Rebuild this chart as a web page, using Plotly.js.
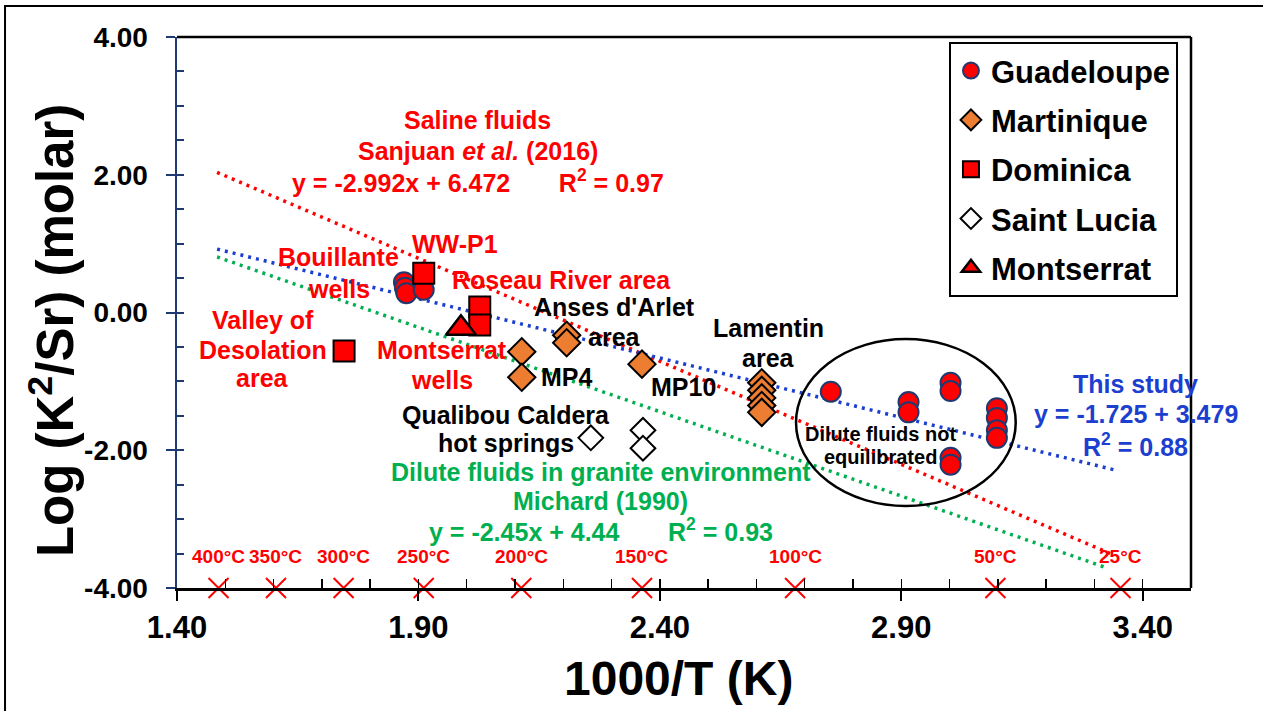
<!DOCTYPE html>
<html>
<head>
<meta charset="utf-8">
<script src="https://cdn.plot.ly/plotly-3.0.1.min.js"></script>
<style>
  html, body { margin: 0; padding: 0; background: #fff; }
  #chart { width: 1263px; height: 711px; }
</style>
</head>
<body>
<div id="chart"></div>
<script>
// Log(K2/Sr) geothermometer: sample data per island (x = 1000/T in K^-1, y = log molar ratio)
const guadeloupeX = [1.870, 1.872, 1.875, 1.911, 2.754, 2.915, 2.915, 3.002, 3.002, 3.002, 3.002, 3.098, 3.098, 3.098, 3.098];
const guadeloupeY = [0.44, 0.36, 0.28, 0.33, -1.15, -1.30, -1.45, -1.02, -1.14, -2.11, -2.21, -1.39, -1.53, -1.71, -1.82];

const martiniqueX = [2.114, 2.114, 2.207, 2.207, 2.363, 2.611, 2.611, 2.611, 2.611, 2.611];
const martiniqueY = [-0.57, -0.94, -0.33, -0.44, -0.75, -1.02, -1.13, -1.24, -1.35, -1.45];

const dominicaX = [1.911, 2.027, 2.027, 1.746];
const dominicaY = [0.57, 0.08, -0.18, -0.56];

const saintLuciaX = [2.257, 2.365, 2.365];
const saintLuciaY = [-1.82, -1.71, -1.97];

const montserratX = [1.988];
const montserratY = [-0.23];

// Reference temperatures marked on the x axis
const tempLabels = ['400°C', '350°C', '300°C', '250°C', '200°C', '150°C', '100°C', '50°C', '25°C'];
const tempX = [1.486, 1.605, 1.745, 1.911, 2.113, 2.363, 2.680, 3.095, 3.354];
const tempY = [-4, -4, -4, -4, -4, -4, -4, -4, -4];

// Regression lines: y = slope * x + intercept, drawn between xStart and xEnd
const fitNames = ['Sanjuan et al. (2016)', 'This study', 'Michard (1990)'];
const fitSlope = [-2.992, -1.725, -2.45];
const fitIntercept = [6.472, 3.479, 4.44];
const fitXStart = [1.483, 1.483, 1.483];
const fitXEnd = [3.338, 3.345, 3.325];
const fitColors = ['#ff0000', '#1c3fd0', '#00b050'];

// Axis tick labels
const yTickVals = [-4, -2, 0, 2, 4];
const yTickText = ['-4.00', '-2.00', '0.00', '2.00', '4.00'];
const xTickVals = [1.4, 1.9, 2.4, 2.9, 3.4];
const xTickText = ['1.40', '1.90', '2.40', '2.90', '3.40'];

const SANS = 'Liberation Sans, Arial, sans-serif';
const NAVY = '#1f3a70';
const RED = '#ff0000';
const BLUE = '#1c3fd0';
const GREEN = '#00b050';

const traces = [];

// dotted regression lines
fitNames.forEach((name, i) => {
  const xs = [fitXStart[i], fitXEnd[i]];
  traces.push({
    type: 'scatter', mode: 'lines', name: name, showlegend: false, hoverinfo: 'skip',
    x: xs, y: xs.map(v => fitSlope[i] * v + fitIntercept[i]),
    line: { color: fitColors[i], width: 3.5, dash: '3px,5px' }
  });
});

// temperature crosses on the x axis
traces.push({
  type: 'scatter', mode: 'markers', showlegend: false, hoverinfo: 'skip', cliponaxis: false,
  x: tempX, y: tempY,
  marker: { symbol: 'x-thin', size: 20, color: RED, line: { color: RED, width: 2 } }
});

function series(name, xs, ys, marker, group) {
  return { type: 'scatter', mode: 'markers', name: name, x: xs, y: ys,
           marker: marker, legendgroup: group, cliponaxis: false };
}

traces.push(series('Guadeloupe', guadeloupeX, guadeloupeY,
  { symbol: 'circle', size: 20, color: RED, line: { color: NAVY, width: 2 } }, 'g1'));
traces.push(series('Martinique', martiniqueX, martiniqueY,
  { symbol: 'diamond', size: 21, color: '#ed7d31', line: { color: '#000', width: 2 } }, 'g2'));
traces.push(series('Dominica', dominicaX, dominicaY,
  { symbol: 'square', size: 21, color: RED, line: { color: '#000', width: 2 } }, 'g3'));
traces.push(series('Saint Lucia', saintLuciaX, saintLuciaY,
  { symbol: 'diamond', size: 19, color: '#fff', line: { color: '#000', width: 2 } }, 'g4'));
traces.push(series('Montserrat', montserratX, montserratY,
  { symbol: 'triangle-up', size: 26, color: RED, line: { color: '#000', width: 2.5 } }, 'g5'));

// companion axes carrying the inner (minor) tick marks
traces.push({ type: 'scatter', mode: 'markers', x: [null], y: [null], xaxis: 'x2', yaxis: 'y2',
              showlegend: false, hoverinfo: 'skip' });

const annotations = [];

// a centred block of text lines, one annotation per line at its own height
function block(lines, x, ys, color, size) {
  lines.forEach((t, i) => {
    annotations.push({
      text: t, x: x, y: ys[i], xref: 'x', yref: 'y', showarrow: false,
      xanchor: 'center', yanchor: 'middle', align: 'center',
      font: { family: SANS, size: size || 25, color: color, weight: 700 }
    });
  });
}

block(['Saline fluids', 'Sanjuan <i>et al.</i> (2016)',
       'y = -2.992x + 6.472&nbsp;&nbsp;&nbsp;&nbsp;&nbsp;&nbsp;&nbsp;R<sup>2</sup> = 0.97'],
      2.023, [2.795, 2.345, 1.909], RED);
block(['WW-P1'], 1.976, [0.995], RED);
block(['Bouillante', 'wells'], 1.735, [0.806, 0.341], RED);
block(['Roseau River area'], 2.197, [0.472], RED);
block(['Valley of', 'Desolation', 'area'], 1.578, [-0.109, -0.544, -0.951], RED);
block(['Montserrat', 'wells'], 1.949, [-0.544, -0.980], RED);
block(["Anses d'Arlet", 'area'], 2.307, [0.080, -0.356], '#000');
block(['MP4'], 2.207, [-0.937], '#000');
block(['MP10'], 2.448, [-1.082], '#000');
block(['Qualibou Caldera', 'hot springs'], 2.081, [-1.488, -1.895], '#000');
block(['Lamentin', 'area'], 2.624, [-0.225, -0.661], '#000');
block(['Dilute fluids in granite environment', 'Michard (1990)',
       'y = -2.45x + 4.44&nbsp;&nbsp;&nbsp;&nbsp;&nbsp;&nbsp;&nbsp;R<sup>2</sup> = 0.93'],
      2.278, [-2.316, -2.737, -3.158], GREEN);
block(['This study', 'y = -1.725 + 3.479', 'R<sup>2</sup> = 0.88'], 3.386, [-1.038, -1.474, -1.924], BLUE);
block(['Dilute fluids not', 'equilibrated'], 2.856, [-1.764, -2.098], '#000', 20);

// axis titles
annotations.push(
  { text: '1000/T (K)', xref: 'paper', yref: 'paper', x: 0.495, y: -0.165, showarrow: false,
    xanchor: 'center', yanchor: 'middle',
    font: { family: SANS, size: 48, color: '#000', weight: 700 } },
  { text: 'Log (K<sup>2</sup>/Sr) (molar)', xref: 'paper', yref: 'paper', x: -0.1233, y: 0.468,
    showarrow: false, textangle: -90, xanchor: 'center', yanchor: 'middle',
    font: { family: SANS, size: 51, color: '#000', weight: 700 } }
);

// temperature labels above each cross
tempLabels.forEach((t, i) => {
  annotations.push({ text: t, x: tempX[i], y: tempY[i], xref: 'x', yref: 'y', yshift: 32,
    showarrow: false, xanchor: 'center', yanchor: 'middle',
    font: { family: SANS, size: 19, color: RED, weight: 700 } });
});

const shapes = [
  // cluster of dilute, non-equilibrated waters
  { type: 'circle', xref: 'x', yref: 'y', x0: 2.682, x1: 3.137, y0: -0.385, y1: -2.810,
    line: { color: '#000', width: 2.5 } },
  // plot frame (top and right)
  { type: 'line', xref: 'paper', yref: 'paper', x0: 0, x1: 1, y0: 1, y1: 1, line: { color: '#000', width: 2.5 } },
  { type: 'line', xref: 'paper', yref: 'paper', x0: 1, x1: 1, y0: 0, y1: 1, line: { color: '#000', width: 2.5 } },
  // outer figure border
  { type: 'rect', xref: 'paper', yref: 'paper', x0: -0.1696, x1: 1.2, y0: -0.4, y1: 1.0563,
    line: { color: '#000', width: 2 } }
];

const layout = {
  width: 1263, height: 711,
  margin: { l: 177, r: 72, t: 37, b: 123, pad: 0 },
  paper_bgcolor: '#fff', plot_bgcolor: '#fff',
  font: { family: SANS, color: '#000' },
  showlegend: true,
  legend: {
    x: 0.7613, y: 0.991, xanchor: 'left', yanchor: 'top',
    bgcolor: '#fff', bordercolor: '#000', borderwidth: 2,
    font: { family: SANS, size: 31, color: '#000', weight: 700 },
    tracegroupgap: 6, itemsizing: 'trace'
  },
  xaxis: {
    range: [1.4, 3.5], showgrid: false, zeroline: false,
    showline: true, linecolor: '#000', linewidth: 2.5,
    tickmode: 'array', tickvals: xTickVals, ticktext: xTickText,
    ticks: 'outside', ticklen: 10, tickwidth: 2, tickcolor: '#000',
    tickfont: { family: SANS, size: 31, color: '#000', weight: 700 }
  },
  yaxis: {
    range: [-4, 4], showgrid: false, zeroline: false,
    showline: true, linecolor: NAVY, linewidth: 2.5,
    tickmode: 'array', tickvals: yTickVals, ticktext: yTickText,
    ticks: 'outside', ticklen: 9, tickwidth: 2, tickcolor: NAVY,
    ticklabelstandoff: 12,
    tickfont: { family: SANS, size: 28, color: '#000', weight: 700 }
  },
  xaxis2: {
    overlaying: 'x', anchor: 'y', side: 'bottom', range: [1.4, 3.5],
    tick0: 1.4, dtick: 0.1, ticks: 'inside', ticklen: 9, tickwidth: 1.5, tickcolor: '#000',
    showticklabels: false, showgrid: false, zeroline: false, showline: false
  },
  yaxis2: {
    overlaying: 'y', anchor: 'x', side: 'left', range: [-4, 4],
    tick0: -4, dtick: 0.5, ticks: 'inside', ticklen: 7, tickwidth: 2, tickcolor: NAVY,
    showticklabels: false, showgrid: false, zeroline: false, showline: false
  },
  annotations: annotations,
  shapes: shapes
};

Plotly.newPlot('chart', traces, layout, { staticPlot: true, displayModeBar: false });
</script>
</body>
</html>
